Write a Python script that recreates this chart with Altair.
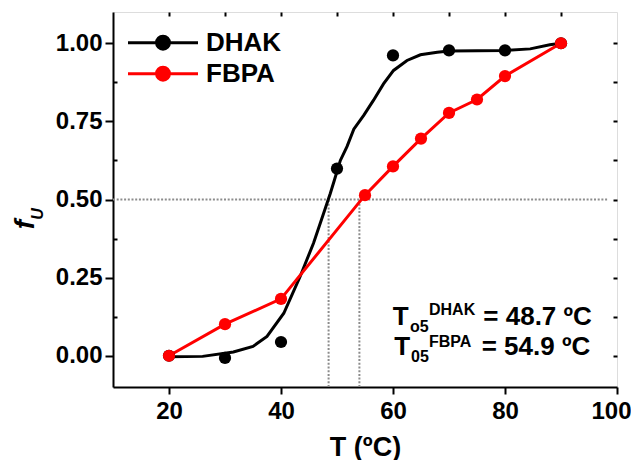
import altair as alt
import pandas as pd

# ---------------- data ----------------
SERIES = ["DHAK", "FBPA"]
COLORS = ["#000000", "#ff0000"]

T_DHAK = [20, 30, 40, 50, 60, 70, 80, 90]
FU_DHAK = [0.0, -0.007, 0.044, 0.599, 0.961, 0.977, 0.977, 1.0]

T_FBPA = [20, 30, 40, 55, 60, 65, 70, 75, 80, 90]
FU_FBPA = [0.0, 0.101, 0.182, 0.514, 0.606, 0.695, 0.777, 0.820, 0.895, 1.0]

# sigmoidal fit drawn through the DHAK points
FIT_T = [20, 26, 31.5, 35, 37.5, 40.5, 43.4, 45.8, 47.6, 48.8,
         49.5, 50.6, 51.8, 53, 54.8, 56.5, 58.3, 60.1, 62.5, 64.9,
         67.9, 70, 80, 84.5, 88, 90]
FIT_FU = [-0.003, -0.002, 0.012, 0.03, 0.062, 0.136, 0.253, 0.36, 0.455, 0.519,
          0.56, 0.625, 0.67, 0.725, 0.77, 0.817, 0.87, 0.913, 0.945, 0.963,
          0.971, 0.975, 0.977, 0.982, 0.995, 1.0]

T05_X = [48.5, 54.0]      # dotted drop lines
HALF = 0.5
HLINE_X = [10, 98.5]

X_DOMAIN = [10, 100]
Y_DOMAIN = [-0.1, 1.1]
X_TICKS = [20, 40, 60, 80, 100]
X_TOP_TICKS = [20, 30, 40, 50, 60, 70, 80, 90]
Y_TICKS = [0.0, 0.25, 0.5, 0.75, 1.0]
Y_MINOR = [0.125, 0.375, 0.625, 0.875]
Y_ALL = [0.0, 0.125, 0.25, 0.375, 0.5, 0.625, 0.75, 0.875, 1.0]

# ---------------- tables ----------------
pts = pd.concat([
    pd.DataFrame({"series": "DHAK", "T": T_DHAK, "fu": FU_DHAK}),
    pd.DataFrame({"series": "FBPA", "T": T_FBPA, "fu": FU_FBPA}),
], ignore_index=True)
lines = pd.concat([
    pd.DataFrame({"series": "DHAK", "T": FIT_T, "fu": FIT_FU}),
    pd.DataFrame({"series": "FBPA", "T": T_FBPA, "fu": FU_FBPA}),
], ignore_index=True)
vrules = pd.DataFrame({"x": T05_X, "y0": [Y_DOMAIN[0]] * len(T05_X), "y1": [HALF] * len(T05_X)})
hrule = pd.DataFrame({"x0": [HLINE_X[0]], "x1": [HLINE_X[1]], "y": [HALF]})
one = pd.DataFrame({"a": [0]})

W, H = 504, 375
FONT = "Liberation Sans"

xscale = alt.Scale(domain=X_DOMAIN, nice=False, zero=False)
yscale = alt.Scale(domain=Y_DOMAIN, nice=False, zero=False)

LEG_PATH = "M-2.5,0H2.5M-0.46,0A0.46,0.46 0 1,1 0.46,0A0.46,0.46 0 1,1 -0.46,0Z"
legend = alt.Legend(
    title=None, orient="none", legendX=34.5, legendY=15.2, padding=0,
    symbolType=LEG_PATH, symbolSize=784, symbolStrokeWidth=3, symbolOpacity=1,
    labelFont=FONT, labelFontSize=26, labelFontWeight="bold", labelColor="black",
    labelOffset=27.5, rowPadding=2,
)
color = alt.Color("series:N", scale=alt.Scale(domain=SERIES, range=COLORS), legend=legend)

dotted = dict(color="#8c8c8c", strokeWidth=2, strokeDash=[2, 1.7])

h_layer = alt.Chart(hrule).mark_rule(**dotted).encode(
    x=alt.X("x0:Q", scale=xscale, axis=None), x2="x1:Q",
    y=alt.Y("y:Q", scale=yscale, axis=None),
)
v_layer = alt.Chart(vrules).mark_rule(**dotted).encode(
    x=alt.X("x:Q", scale=xscale, axis=None),
    y=alt.Y("y0:Q", scale=yscale, axis=None), y2="y1:Q",
)

x_axis = alt.Axis(
    orient="bottom", values=X_TICKS, format="d", grid=False,
    tickSize=7, tickWidth=2, tickColor="black", domainColor="black", domainWidth=2,
    labelFont=FONT, labelFontSize=24, labelFontWeight="bold", labelColor="black", labelPadding=5,
    labelFlush=True, labelFlushOffset=14,
    title="T (ºC)", titleFont=FONT, titleFontSize=27, titleFontWeight="bold", titleColor="black",
    titleX=W / 2, titleY=68, titleBaseline="alphabetic", titleAlign="center",
)
y_axis = alt.Axis(
    orient="left", values=Y_TICKS, format=".2f", grid=False,
    tickSize=8, tickWidth=2, tickColor="black", domainColor="black", domainWidth=2,
    labelFont=FONT, labelFontSize=24, labelFontWeight="bold", labelColor="black", labelPadding=3,
    title="f", titleFont=FONT, titleFontSize=28, titleFontWeight="bold", titleFontStyle="italic",
    titleColor="black", titleAngle=270, titleX=-80, titleY=212, titleBaseline="alphabetic",
    titleAlign="center",
)

line_layer = alt.Chart(lines).mark_line(strokeWidth=3).encode(
    x=alt.X("T:Q", scale=xscale, axis=x_axis),
    y=alt.Y("fu:Q", scale=yscale, axis=y_axis),
    color=color,
    detail="series:N",
)
point_layer = alt.Chart(pts).mark_point(filled=True, size=150, opacity=1, strokeWidth=0).encode(
    x=alt.X("T:Q", scale=xscale, axis=None),
    y=alt.Y("fu:Q", scale=yscale, axis=None),
    color=color,
)

inward = dict(labels=False, domain=False, title=None, grid=False, tickSize=4, tickWidth=2, tickColor="black")
frame_layer = alt.Chart(pts).mark_point(opacity=0).encode(
    x=alt.X("T:Q", scale=xscale, axis=alt.Axis(orient="bottom", offset=-H, values=X_TOP_TICKS, **inward)),
    y=alt.Y("fu:Q", scale=yscale, axis=alt.Axis(orient="left", offset=-W, values=Y_ALL, **inward)),
)
minor_layer = alt.Chart(pts).mark_point(opacity=0).encode(
    x=alt.X("T:Q", scale=xscale, axis=None),
    y=alt.Y("fu:Q", scale=yscale, axis=alt.Axis(orient="right", offset=-W, values=Y_MINOR, **inward)),
)


def label(text, x, y, size, style="normal", angle=0):
    return alt.Chart(one).mark_text(
        text=text, font=FONT, fontSize=size, fontWeight="bold", fontStyle=style,
        align="left" if angle == 0 else "center", baseline="alphabetic", color="black", angle=angle,
    ).encode(x=alt.value(x), y=alt.value(y))


texts = [
    label("T", 279.7, 313, 26),
    label("o5", 297, 319.7, 16),
    label("DHAK", 316, 303, 16),
    label("= 48.7 ºC", 370.3, 313, 26),
    label("T", 281.3, 343, 26),
    label("05", 298, 349.7, 16),
    label("FBPA", 316, 334.7, 16),
    label("= 54.9 ºC", 368.7, 343, 26),
    label("U", -69.7, 202, 16, style="italic", angle=270),
]

chart = alt.layer(
    h_layer, v_layer, line_layer, point_layer, frame_layer, minor_layer, *texts
).resolve_axis(x="independent", y="independent").properties(
    width=W, height=H,
    autosize=alt.AutoSizeParams(type="none"),
    padding={"left": 105, "top": 4, "right": 14, "bottom": 73},
).configure_view(stroke="black", strokeWidth=2).configure(background="white")

chart.save("out.html", embed_options={"renderer": "svg", "actions": False})
